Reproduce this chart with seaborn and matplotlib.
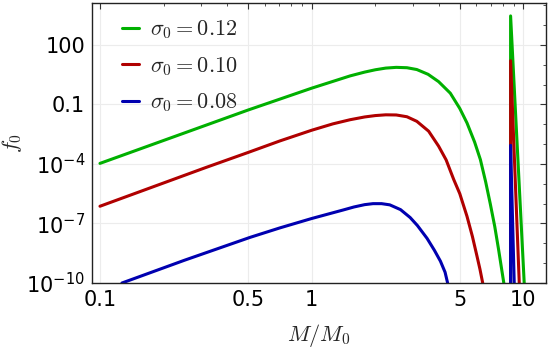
import numpy as np
import pandas as pd
import matplotlib
matplotlib.use("Agg")
import matplotlib.pyplot as plt
import seaborn as sns
from matplotlib.ticker import LogLocator, NullFormatter
from matplotlib.font_manager import FontProperties

# values (M/M0, f0)
green_M = [0.1, 0.5, 0.708, 1.0, 1.26, 1.52, 1.78, 2.0, 2.24, 2.51, 2.82, 3.14,
           3.55, 3.98, 4.52, 5.01, 5.42, 5.89, 6.27, 6.64, 6.98, 7.33, 7.64, 8.09]
green_f = [1.07e-4, 5.2e-2, 0.186, 0.66, 1.45, 2.75, 4.27, 5.6, 6.8, 7.4, 7.1, 5.75,
           3.3, 1.41, 0.37, 6.3e-2, 1.17e-2, 1.26e-3, 1.66e-4, 1.26e-5, 1e-6,
           7.1e-8, 5e-9, 1e-10]

red_M = [0.1, 0.316, 0.501, 0.708, 1.0, 1.26, 1.52, 1.78, 2.0, 2.24, 2.51, 2.82,
         3.14, 3.57, 3.98, 4.32, 4.69, 5.01, 5.42, 5.75, 6.04, 6.24, 6.43]
red_f = [7.4e-7, 6.6e-5, 3.8e-4, 1.45e-3, 5.0e-3, 1.05e-2, 1.7e-2, 2.34e-2,
         2.75e-2, 3.0e-2, 2.95e-2, 2.4e-2, 1.41e-2, 4.5e-3, 7.9e-4, 1.6e-4,
         1.66e-5, 3.2e-6, 2.3e-7, 2.2e-8, 2.3e-9, 5e-10, 1e-10]

blue_M = [0.127, 0.251, 0.512, 0.708, 1.0, 1.41, 1.585, 1.78, 1.95, 2.14, 2.34,
          2.63, 2.92, 3.16, 3.51, 3.80, 4.06, 4.27, 4.39]
blue_f = [1e-10, 1.41e-9, 2.0e-8, 6.0e-8, 1.78e-7, 4.8e-7, 6.8e-7, 8.9e-7, 1.0e-6,
          1.0e-6, 8.7e-7, 5.0e-7, 2.0e-7, 7.9e-8, 1.78e-8, 4.5e-9, 1.26e-9,
          3.5e-10, 1e-10]

# narrow spikes near M/M0 ~ 9
green_spike_M = [8.71, 8.71, 10.1]
green_spike_f = [1e-10, 2.9e3, 1e-10]
red_spike_M = [8.71, 8.71, 9.57]
red_spike_f = [1e-10, 16, 1e-10]
blue_spike_M = [8.71, 8.71, 9.06]
blue_spike_f = [1e-10, 8.7e-4, 1e-10]

labels = [r"$\sigma_0 = 0.12$", r"$\sigma_0 = 0.10$", r"$\sigma_0 = 0.08$"]
colors = ["#00b000", "#b00000", "#0000b0"]

x_ticks = [0.1, 0.5, 1, 5, 10]
x_tick_labels = ["0.1", "0.5", "1", "5", "10"]
y_ticks = [1e-10, 1e-7, 1e-4, 0.1, 100]
y_tick_labels = [r"$10^{-10}$", r"$10^{-7}$", r"$10^{-4}$", "0.1", "100"]

sns.set_theme(style="white")
plt.rcParams["font.family"] = ["DejaVu Sans"]
plt.rcParams["mathtext.fontset"] = "dejavusans"

frames = []
for lab, (m, f), (sm, sf) in zip(
        labels,
        [(green_M, green_f), (red_M, red_f), (blue_M, blue_f)],
        [(green_spike_M, green_spike_f), (red_spike_M, red_spike_f),
         (blue_spike_M, blue_spike_f)]):
    frames.append(pd.DataFrame({"M": m, "f": f, "sigma": lab, "part": "main"}))
    frames.append(pd.DataFrame({"M": sm, "f": sf, "sigma": lab, "part": "spike"}))
df = pd.concat(frames, ignore_index=True)

fig = plt.figure(figsize=(5.5, 3.51), dpi=100)
ax = fig.add_axes([0.1673, 0.1937, 0.8254, 0.7978])
ax.set_xscale("log")
ax.set_yscale("log")

sns.lineplot(data=df, x="M", y="f", hue="sigma", hue_order=labels, units="part",
             estimator=None, sort=False, palette=dict(zip(labels, colors)),
             linewidth=2.2, ax=ax)

ax.set_xlim(0.0917, 12.8)
ax.set_ylim(1e-10, 1.3e4)

ax.set_xticks(x_ticks, labels=x_tick_labels)
ax.set_yticks(y_ticks, labels=y_tick_labels)
ax.xaxis.set_minor_locator(LogLocator(base=10, subs=np.arange(1, 10), numticks=30))
ax.yaxis.set_minor_locator(LogLocator(base=10, subs=(1.0,), numticks=30))
ax.xaxis.set_minor_formatter(NullFormatter())
ax.yaxis.set_minor_formatter(NullFormatter())

ax.tick_params(which="both", direction="in", top=True, right=True, colors="#333333",
               labelcolor="black")
ax.tick_params(which="major", length=4, width=0.8, labelsize=15, pad=5)
ax.tick_params(which="minor", length=2.2, width=0.6)

ax.grid(True, which="major", color="#ececec", linewidth=0.8)
for s in ax.spines.values():
    s.set_color("#222222")
    s.set_linewidth(1.0)

ax.set_xlabel(r"$M/M_0$", fontsize=16, math_fontfamily="cm")
ax.set_ylabel(r"$f_0$", fontsize=16, math_fontfamily="cm")
ax.xaxis.set_label_coords(0.5, -0.14)
ax.yaxis.set_label_coords(-0.15, 0.5)

old = ax.get_legend()
handles = old.legend_handles
texts = [t.get_text() for t in old.get_texts()]
old.remove()
for h in handles:
    h.set_linewidth(2.2)
ax.legend(handles, texts, loc="upper left", bbox_to_anchor=(0.066, 0.945),
          frameon=False, borderpad=0, borderaxespad=0, handlelength=0.75,
          handletextpad=0.5, labelspacing=0.62,
          prop=FontProperties(size=16, math_fontfamily="cm"))

fig.savefig("out.png", dpi=100)
